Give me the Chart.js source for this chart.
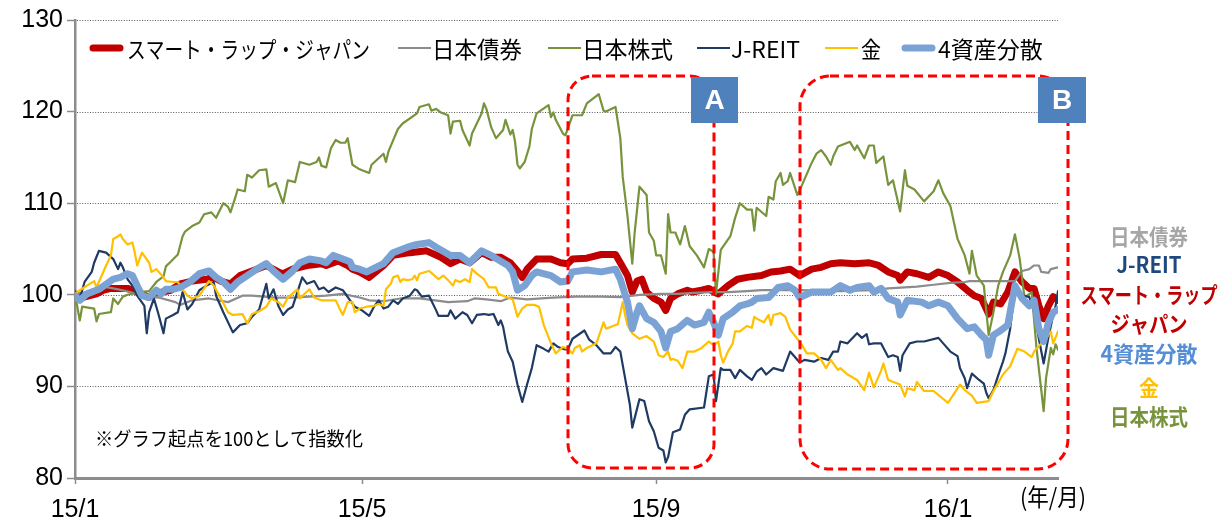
<!DOCTYPE html>
<html><head><meta charset="utf-8">
<script src="https://cdn.jsdelivr.net/npm/chart.js@4.4.0/dist/chart.umd.min.js"></script>
<style>html,body{margin:0;padding:0;background:#fff;}#wrap{width:1229px;height:525px;position:relative;}</style>
</head><body><div id="wrap"><canvas id="c" width="1229" height="525" style="width:1229px;height:525px"></canvas></div>
<script>
// ---- data (x = days since 2015-01-01) ----
const tickDays = [0, 120, 243, 365];
const tickLabels = ['15/1', '15/5', '15/9', '16/1'];
const seriesNames = ['スマート・ラップ・ジャパン', '日本債券', '日本株式', 'J-REIT', '金', '4資産分散'];
const sideLabels = ['日本債券', 'J-REIT', 'スマート・ラップ', 'ジャパン', '4資産分散', '金', '日本株式'];

const smartDays = [0,3,9,12,15,22,28,31,33,40, 44,49,55,58,61,65,69,76,80,85, 87,91,97,103,105,110,114,116,119,123,
 129,133,140,147,153,157,161,165,170,174, 178,182,185,187,189,193,199,203,206,208, 214,220,226,228,231,233,235,237,239,242,
 245,247,249,252,256,258,262,265,267,269, 273,277,281,287,291,295,299,303,308,312, 316,320,326,332,336,340,344,345,348,352,
 357,361,365,369,373,376,379,382,384,387, 390,393,396,399,401,403,405,407,409,411];
const smartVals = [100.1,99.7,100.1,100.5,100.7,100.7,100.1,99.7,100.1,100.5, 101.2,101.5,101.7,101.9,101.5,101.2,102.1,102.8,103.2,102.5,
 102.3,102.8,103.2,103.4,103.2,103.7,103.2,102.8,102.5,101.9, 103.2,104.3,104.6,104.8,104.1,103.4,103.9,103.5,104.6,104.1,
 104.1,103.5,102.6,101.9,102.8,103.9,103.9,103.5,103.4,103.9, 104.0,104.4,104.4,103.5,102.1,100.3,101.5,101.7,100.3,99.6,
 99.2,98.3,99.6,100.1,100.5,100.3,100.5,100.7,100.3,100.1, 101,101.7,101.9,102.1,102.5,102.6,102.8,102.1,102.8,103,
 103.4,103.5,103.4,103.5,103.2,102.5,102.1,101.6,102.5,102.3, 101.9,102.5,102.1,101.4,100.5,99.9,99.6,97.9,99.2,99.0,
 100.3,102.5,101.4,100.7,100.7,98.8,97.4,98.8,99.8,99.4];

const bondDays = [0,10,12,18,23,28,35,42,44,49, 56,64,70,74,84,91,105,112,119,123, 129,136,144,153,156,164,167,172,178,182,
 189,195,200,209,220,228,236,245,252,259, 266,273,281,287,303,320,333,340,347,352, 359,366,372,374,380,387,393,396,399,401,
 403,404,407,408,411];
const bondVals = [100.1,100.5,100.9,100.6,100.3,99.9,99.7,99.2,98.9,99.4, 99.6,99.2,99.9,99.9,99.7,99.7,99.9,100.1,99.7,99.4,
 99.3,99.6,99.6,99.3,99.2,99.3,99.6,99.5,99.3,99.7, 99.5,99.6,99.7,99.8,99.8,99.75,100,100.1,100.1,100.2,
 100.3,100.3,100.4,100.5,100.5,100.4,100.5,100.7,100.8,100.9, 101.1,101.3,101.4,101.5,101.5,101.5,101.5,102.6,102.8,103.2,
 103.2,102.5,102.4,102.8,103];

const stockDays = [0,2,3,8,9,10,15,16,18,20, 22,27,31,34,37,38,40,43,45,46, 49,52,54,57,59,62,64,65,67,68,
 71,72,74,77,80,81,84,87,89,92, 94,98,101,102,103,105,107,109,111,113, 114,116,119,123,124,129,130,131,135,137,
 143,144,148,149,151,153,156,157,158,161, 162,165,166,168,170,171,172,174,176,179, 180,182,183,184,185,186,188,190,191,193,
 198,199,200,201,204,205,206,208,212,214, 219,221,222,226,228,229,231,233,234,236, 239,240,242,243,245,247,248,249,251,253,
 255,257,260,263,265,267,268,270,274,276, 278,281,283,284,285,289,290,292,293,295, 296,298,299,302,303,305,308,310,312,314,
 316,317,319,324,326,327,330,332,334,335, 338,340,342,345,347,348,351,355,359,361, 363,366,369,372,374,375,377,380,382,384,
 386,388,391,393,395,397,400,402,405,406, 408,409,410,411];
const stockVals = [100.1,97.2,98.7,98.5,97.1,97.9,98.1,99.6,99,99.8, 100,100.3,100.4,101.4,102,103.1,103.6,104.4,106.4,106.9,
 107.5,107.9,108.8,109,108.4,110,109.6,109,110.6,111.5, 111.3,113.1,112.8,113.6,113.7,111.8,112.2,110,112.5,112.3,
 114.5,114.2,114.5,115,114.1,113.9,116,116.9,116.6,116.6, 117.1,114.2,113.7,113.3,114.2,115.4,114.5,115.6,118.1,118.7,
 119.8,120.5,120.8,120.1,120.3,119.9,119.6,117.6,118.9,119, 118,116.3,117.6,118.7,119.8,120.9,120.3,118.3,117.1,118,
 119.1,117.5,118,116.7,114.2,113.8,114.5,116.2,118.1,119.8, 120.7,119.4,119.9,119.1,117.6,117.4,118.1,119.6,119.6,120.9,
 121.9,120.1,120,120.5,117.1,112.9,108.6,103.4,106.8,111.8, 110.9,106.8,105.9,104.3,104.3,102.3,108.8,106.8,106.8,105.5,
 107.5,105.3,104.3,103,105,104.7,100.1,104.9,106.4,108.4, 110,109.3,109.3,107,109.5,108.6,110.7,110.4,112.4,113.3,
 112,112.4,113.3,110.9,111.4,112.6,114.4,115.4,115.8,115.1, 114.2,115.1,116.2,116.7,115.8,116.3,114.9,116.3,116.3,114.4,
 115.1,112,112.5,109.1,113.6,111.9,111.5,110.2,111.3,112.5, 111.1,109.7,106.1,104.3,102.3,104.8,102.1,101,95.6,98.1,
 101,102.5,104.3,106.6,103.9,99.7,100.3,94.2,87.3,90.9, 94.2,93.5,94.6,94];

const reitDays = [0,2,4,7,8,10,13,16,18,19, 20,22,24,26,29,30,31,33,35,37, 38,41,43,45,47,49,52,55,58,59,
 62,66,69,72,74,77,80,81,83,85, 87,89,91,95,97,100,102,104,106,109, 112,115,117,120,123,125,127,129,131,133,
 135,137,140,142,143,145,148,151,152,156, 157,159,162,164,166,168,171,173,175,177, 178,179,180,181,183,185,187,189,191,193,
 196,198,200,202,204,206,208,213,215,217, 218,221,224,226,228,230,232,233,236,238, 240,242,244,246,247,248,250,253,255,257,
 263,265,267,268,270,271,274,276,278,281, 283,285,287,289,292,296,299,302,303,305, 309,312,315,317,319,320,323,327,329,331,
 332,334,337,340,342,344,345,346,349,352, 355,361,363,366,369,370,372,373,375,378, 380,381,382,384,386,388,389,391,393,395,
 397,399,401,403,405,407,409,410,411];
const reitVals = [100.1,99.6,101.4,102.5,103.5,104.8,104.6,103.9,102.8,103.5, 103,101.7,101,99.9,98.8,95.8,98.1,99.6,97.8,95.8,
 97.4,97.8,98.1,100.3,98.4,99,100.5,101,101.4,99.9, 98.1,95.9,96.7,96.9,97.6,98.4,101.2,99.6,100.6,98.8,
 97.8,98.4,98.7,101.9,101.2,101.5,100.6,100.8,100.3,100.8, 100.5,99.4,98.7,98.3,97.7,98.7,99.4,98.5,98.7,99.4,
 99,99.6,99.9,100.6,100.5,99.8,99.9,98.3,97.7,97.7, 98.3,97.4,98.1,97.8,96.9,97.8,97.9,97.8,97.9,96.7,
 97.2,96.5,95.1,93.8,92.7,90.2,88.3,90.2,92,94.5, 94.1,93.8,94.7,94.3,94.1,94,95.2,96.1,95.1,94.7,
 94.5,93.6,93.6,94.3,93.8,90.9,88,85.5,88.6,88.4, 86.2,85.1,83.3,83,81.7,82.3,85,85.3,86.9,87.5,
 87.7,91.1,91.3,88.4,92,91.8,91.8,90.9,91.8,91.1, 90.7,91.6,92,91.3,92,91.7,93.8,92.9,92.6,92.9,
 92.7,93.1,92.9,93.8,93.8,94.9,94.7,95.8,95.3,95.7, 94.6,94.7,94.7,93.2,93.4,93.2,91.7,93.4,94.7,94.9,
 94.9,95.3,94.7,93.8,93.3,92,90.9,89.8,91.4,90.7, 90.3,89.3,88.7,89.6,91.2,92.7,93.6,96.3,100.6,99.75,
 99.9,99.75,98.1,95.2,92.5,95.4,97.8,98.8,100.4];

const goldDays = [0,2,5,8,9,10,13,15,16,18, 19,20,22,24,25,26,28,31,32,34, 37,38,41,43,45,47,49,52,56,58,
 61,64,66,70,72,74,77,80,82,85, 87,89,93,94,98,100,103,106,109,111, 112,114,116,117,119,122,125,127,129,130,
 132,133,135,136,137,139,141,142,143,144, 148,149,152,154,156,158,159,161,163,165, 166,168,171,173,176,177,179,182,183,185,
 187,189,192,194,196,199,201,204,206,208, 209,211,212,214,218,221,222,226,227,229, 230,231,233,236,239,242,244,246,248,249,
 250,252,254,256,259,262,265,267,269,270, 271,273,275,276,278,281,283,284,285,288, 290,291,292,295,297,299,302,304,306,309,
 312,314,316,319,320,323,327,330,332,334, 337,338,340,345,347,348,351,352,355,359, 365,367,370,372,375,377,382,384,386,388,
 391,394,397,400,401,404,406,408,409,411];
const goldVals = [100.1,100.5,101,101.5,100.8,101.4,103.2,104.3,106.1,106.4, 106.6,106.1,105.5,105.7,104.6,103.2,104.6,103.5,102.5,102.8,
 101.9,101.5,101.4,101.4,100.6,99.9,99.6,99.9,101.5,101, 99.6,98.1,97.8,97.9,96.9,97.9,98.2,98.7,99.6,99.2,
 98.7,99.7,100.6,99.6,100.6,99.7,99.4,99.4,99.4,98.3, 97.8,99.2,99.2,98.1,98.5,98.7,98.8,99,98.8,100.6,
 101.2,101.9,102.1,101.4,101.7,101.6,101.7,102.1,101.6,102.3, 102.6,102.4,101.7,102.1,101.6,101,101.6,101.4,101.7,101.4,
 102.8,102.3,101.7,100.8,100.8,100.1,99.9,99.6,99.5,97.6, 98.5,98.9,98.9,98.7,96.7,94.7,93.6,94.3,94.1,93.6,
 94.2,94.5,93.8,94.2,94.7,97,96.3,96.7,96.8,99.2, 97.8,96.7,95.8,95.2,95.5,94.9,93.4,93.2,93.8,92.9,
 93,92.8,92,93.8,93.8,94.2,94.9,94.5,94.9,93.4, 92.6,93.8,94.7,96,96,96.6,96.4,97.6,97.4,97,
 97.8,96.7,97.8,98,97.6,96.2,95.2,94.5,93.6,93.6, 92.9,92,92.9,91.8,92,91.3,90.7,89.6,91.5,89.9,
 91.7,92.5,90.7,90.2,88.9,89.8,89.6,90.5,89.5,89.5, 88.2,89,90.2,89.6,89,88.2,88.4,89.5,90.4,91.3,
 92.2,94.1,93.8,93.2,93.8,94.7,95.2,96,94.7,96];

const divDays = [0,2,5,10,16,19,22,24,26,28, 31,34,36,38,41,44,48,52,56,59, 62,65,68,72,76,80,83,87,91,94,
 98,103,105,108,112,115,116,119,122,129, 133,139,143,148,151,157,161,165,170,174, 181,183,185,188,191,193,199,203,206,208,
 214,220,226,228,231,233,235,236,239,242, 245,247,249,252,256,259,263,265,267,269, 271,275,278,281,283,285,290,294,298,301,
 303,308,312,316,320,324,327,332,334,337, 340,344,345,348,354,357,361,365,369,373, 376,379,381,382,384,387,390,393,396,399,
 401,403,405,407,409,411];
const divVals = [99.9,99.4,100.1,100.6,101.7,101.9,102.3,102.1,101,99.9, 99.7,100.5,100.1,100.6,100.6,100.8,101.4,102.3,102.6,101.9,
 101.4,100.6,101.4,102.1,102.8,103.4,102.6,101.7,102.6,103.5, 103.9,103.7,103.5,104.3,103.9,103.6,103,102.8,102.5,103.4,
 104.6,105.2,105.5,105.7,105.2,104.3,104.3,103.5,104.8,104.3, 103.2,102.5,100.5,101,102.1,102.5,102.1,101.4,101.5,102.5,
 102.7,102.5,102.8,101.7,99.2,96.3,98.1,98.8,97.4,97, 96,94.2,96,96.3,97.2,96.7,97,98.1,97,95.6,
 97.4,98.1,98.8,99,99.2,99.6,99.7,100.8,101,100.5, 99.7,100.3,100.3,100.3,101,100.5,100.8,101,100.3,100.7,
 99.6,99.2,97.8,99.4,99.2,98.8,99.2,98.8,97.4,96.3, 96.5,95.6,95.1,93.4,95.6,96.1,96.7,101,99.6,98.8,
 99.4,96.3,94.9,97,98.1,98.4];

const colors = ['#C00000', '#8C8C8C', '#77933C', '#1F3A63', '#FFC000', '#7BA2D4'];
const sideColors = ['#A6A6A6', '#1F497D', '#C00000', '#C00000', '#558ED5', '#FFC000', '#77933C'];

function pts(days, vals) { return days.map((d, i) => ({ x: d, y: vals[i] })); }

const seriesData = [pts(smartDays, smartVals), pts(bondDays, bondVals), pts(stockDays, stockVals),
  pts(reitDays, reitVals), pts(goldDays, goldVals), pts(divDays, divVals)];
const widths = [7, 2.2, 2.2, 2.2, 2.2, 7];
const orders = [6, 5, 4, 3, 2, 1];

const JP = '"Noto Sans CJK JP", sans-serif';

function roundRect(ctx, x, y, w, h, r) {
  ctx.beginPath();
  ctx.moveTo(x + r, y);
  ctx.arcTo(x + w, y, x + w, y + h, r);
  ctx.arcTo(x + w, y + h, x, y + h, r);
  ctx.arcTo(x, y + h, x, y, r);
  ctx.arcTo(x, y, x + w, y, r);
  ctx.closePath();
}

const overlay = {
  id: 'overlay',
  beforeDatasetsDraw(chart) {
    // dotted horizontal gridlines at each y tick (except the axis at the bottom)
    const ctx = chart.ctx, a = chart.chartArea, ys = chart.scales.y;
    ctx.save();
    ctx.strokeStyle = '#595959';
    ctx.lineWidth = 1;
    ctx.setLineDash([1, 1.6]);
    ys.ticks.forEach(t => {
      if (t.value <= ys.min) return;
      const y = Math.round(ys.getPixelForValue(t.value)) + 0.5;
      ctx.beginPath(); ctx.moveTo(a.left + 2, y); ctx.lineTo(a.right, y); ctx.stroke();
    });
    ctx.restore();
  },
  afterDatasetsDraw(chart) {
    const ctx = chart.ctx;
    ctx.save();
    ctx.strokeStyle = '#FF0000';
    ctx.lineWidth = 3;
    ctx.setLineDash([9, 5]);
    roundRect(ctx, 568, 76, 146, 392, 24); ctx.stroke();
    roundRect(ctx, 800, 76, 268, 393, 30); ctx.stroke();
    ctx.setLineDash([]);
    ctx.fillStyle = '#4F81BD';
    ctx.fillRect(691, 77, 47, 46);
    ctx.fillRect(1038, 77, 48, 46);
    ctx.fillStyle = '#FFFFFF';
    ctx.font = 'bold 28px "Liberation Sans", Arial, sans-serif';
    ctx.textAlign = 'center'; ctx.textBaseline = 'middle';
    ctx.fillText('A', 714.5, 101);
    ctx.fillText('B', 1062, 101);
    ctx.restore();
  },
  afterDraw(chart) {
    const ctx = chart.ctx;
    ctx.save();
    // legend
    const sw = [90, 398, 548, 697, 825, 902];
    const tx = [127, 432, 582, 731, 861, 938];
    const tw = [243, 90, 91, 72, 20, 105];
    ctx.textBaseline = 'middle'; ctx.textAlign = 'left';
    ctx.font = '23px ' + JP;
    chart.data.datasets.forEach((ds, i) => {
      ctx.strokeStyle = ds.borderColor;
      ctx.lineWidth = ds.borderWidth;
      ctx.lineCap = ds.borderWidth > 3 ? 'round' : 'butt';
      ctx.beginPath();
      const inset = ds.borderWidth > 3 ? 3 : 0;
      ctx.moveTo(sw[i] + inset, 48); ctx.lineTo(sw[i] + 33 - inset, 48); ctx.stroke();
      ctx.fillStyle = '#000';
      ctx.fillText(ds.label, tx[i], 49, tw[i]);
    });
    // right side labels
    ctx.textAlign = 'center';
    ctx.font = 'bold 22px ' + JP;
    const sy = [237, 265, 295, 324, 354, 388, 417];
    const swd = [78, 65, 137, 77, 97, 20, 78];
    sideLabels.forEach((t, i) => {
      ctx.fillStyle = sideColors[i];
      ctx.fillText(t, 1149, sy[i], swd[i]);
    });
    // note
    ctx.textAlign = 'left'; ctx.fillStyle = '#000';
    ctx.font = '19px ' + JP;
    ctx.fillText('※グラフ起点を100として指数化', 95, 439, 268);
    ctx.font = '24px ' + JP;
    ctx.fillText('(年/月)', 1020, 497, 66);
    ctx.restore();
  }
};

Chart.defaults.font.family = '"Liberation Sans", Arial, sans-serif';

new Chart(document.getElementById('c'), {
  type: 'line',
  data: {
    datasets: seriesNames.map((n, i) => ({
      label: n, data: seriesData[i], borderColor: colors[i], backgroundColor: colors[i],
      borderWidth: widths[i], pointRadius: 0, tension: 0, fill: false,
      borderJoinStyle: 'round', borderCapStyle: 'round', order: orders[i]
    }))
  },
  options: {
    responsive: false, animation: false,
    layout: { padding: { top: 20, right: 171, left: 0, bottom: 0 } },
    plugins: { legend: { display: false }, tooltip: { enabled: false } },
    scales: {
      x: {
        type: 'linear', min: 0, max: 411,
        afterBuildTicks: s => { s.ticks = tickDays.map(v => ({ value: v })); },
        afterFit: s => { s.height = 47; },
        ticks: { autoSkip: false, maxRotation: 0, padding: 11, color: '#000', font: { size: 25 },
          callback: v => tickLabels[tickDays.indexOf(v)] },
        grid: { drawOnChartArea: false, drawTicks: true, tickLength: 6, tickColor: '#8C8C8C', tickWidth: 1.5 },
        border: { color: '#8C8C8C', width: 3 }
      },
      y: {
        min: 80, max: 130,
        afterFit: s => { s.width = 75; },
        ticks: { stepSize: 10, padding: 4, color: '#000', font: { size: 25 } },
        grid: { drawOnChartArea: false, tickLength: 8, tickColor: '#8C8C8C', tickWidth: 1.5 },
        border: { color: '#8C8C8C', width: 2.5 }
      }
    }
  },
  plugins: [overlay]
});
</script></body></html>
